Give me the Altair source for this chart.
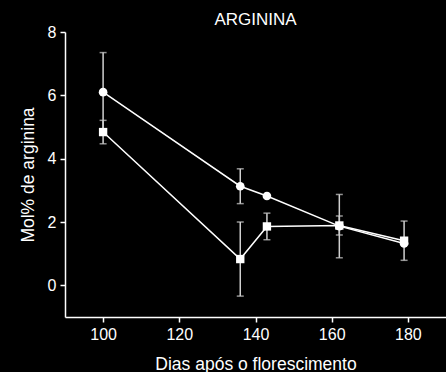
import altair as alt
import pandas as pd

days = [100, 136, 143, 162, 179]
circle_mol = [6.1, 3.13, 2.82, 1.87, 1.32]
circle_err = [1.25, 0.55, 0.0, 1.0, 0.0]
square_mol = [4.84, 0.83, 1.86, 1.89, 1.41]
square_err = [0.37, 1.17, 0.42, 0.3, 0.62]
x_ticks = [100, 120, 140, 160, 180]
y_ticks = [0, 2, 4, 6, 8]

rows = []
for d, m, e in zip(days, circle_mol, circle_err):
    rows.append({"dia": d, "mol": m, "lo": m - e, "hi": m + e, "serie": "circulo", "err": e})
for d, m, e in zip(days, square_mol, square_err):
    rows.append({"dia": d, "mol": m, "lo": m - e, "hi": m + e, "serie": "quadrado", "err": e})
df = pd.DataFrame(rows)
df_err = df[df["err"] > 0]

FONT = "Liberation Sans"
xs = alt.Scale(domain=[90, 190], nice=False, zero=False)
ys = alt.Scale(domain=[-1, 8], nice=False, zero=False)

x_enc = alt.X("dia:Q", scale=xs, axis=alt.Axis(
    values=x_ticks, title="Dias após o florescimento", grid=False,
    domainColor="white", tickColor="white", labelColor="white", titleColor="white",
    labelFont=FONT, titleFont=FONT, labelFontSize=16, titleFontSize=17.5,
    titleFontWeight="normal", tickSize=5, labelPadding=4, titlePadding=13,
    domainWidth=1.5, tickWidth=1.5))
y_enc = alt.Y("mol:Q", scale=ys, axis=alt.Axis(
    values=y_ticks, title="Mol% de arginina", grid=False,
    domainColor="white", tickColor="white", labelColor="white", titleColor="white",
    labelFont=FONT, titleFont=FONT, labelFontSize=16, titleFontSize=17.5,
    titleFontWeight="normal", tickSize=5, labelPadding=4, titlePadding=10,
    domainWidth=1.5, tickWidth=1.5))

base = alt.Chart(df)

err_rule = alt.Chart(df_err).mark_rule(color="#d0d0d0", strokeWidth=1.5).encode(
    x=alt.X("dia:Q", scale=xs), y=alt.Y("lo:Q", scale=ys), y2="hi:Q")
cap_lo = alt.Chart(df_err).mark_tick(color="#d0d0d0", thickness=1.5, size=7, orient="horizontal").encode(
    x=alt.X("dia:Q", scale=xs), y=alt.Y("lo:Q", scale=ys))
cap_hi = alt.Chart(df_err).mark_tick(color="#d0d0d0", thickness=1.5, size=7, orient="horizontal").encode(
    x=alt.X("dia:Q", scale=xs), y=alt.Y("hi:Q", scale=ys))

lines = base.mark_line(color="white", strokeWidth=1.5).encode(
    x=x_enc, y=y_enc, detail="serie:N")
circles = base.transform_filter(alt.datum.serie == "circulo").mark_point(
    shape="circle", filled=True, color="white", size=75, opacity=1).encode(x="dia:Q", y="mol:Q")
squares = base.transform_filter(alt.datum.serie == "quadrado").mark_point(
    shape="square", filled=True, color="white", size=70, opacity=1).encode(x="dia:Q", y="mol:Q")

chart = alt.layer(err_rule, cap_lo, cap_hi, lines, circles, squares).properties(
    width=381, height=285,
    title=alt.TitleParams("ARGININA", color="white", font=FONT, fontSize=17,
                          fontWeight="normal", anchor="middle", offset=-5),
    background="black",
    padding={"left": 65, "top": 32, "right": 0, "bottom": 55},
    autosize=alt.AutoSizeParams(type="none"),
).configure_view(stroke=None)

chart.save("out.html", embed_options={"renderer": "svg", "actions": False})
